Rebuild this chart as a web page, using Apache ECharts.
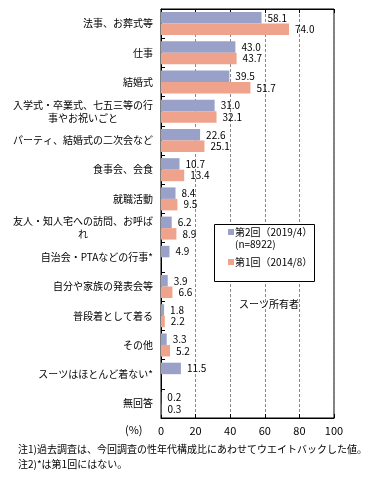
<!DOCTYPE html>
<html><head><meta charset="utf-8">
<script src="https://cdn.jsdelivr.net/npm/echarts@6/dist/echarts.min.js"></script>
<style>html,body{margin:0;padding:0;background:#fff}#c{width:380px;height:479px}</style>
</head><body><div id="c"></div>
<script>
var categories = ['法事、お葬式等','仕事','結婚式','入学式・卒業式、七五三等の行\n事やお祝いごと','パーティ、結婚式の二次会など','食事会、会食','就職活動','友人・知人宅への訪問、お呼ば\nれ','自治会・PTAなどの行事*','自分や家族の発表会等','普段着として着る','その他','スーツはほとんど着ない*','無回答'];
var seriesNames = ['第2回（2019/4）','第1回（2014/8）'];
var round2 = [58.1,43.0,39.5,31.0,22.6,10.7,8.4,6.2,4.9,3.9,1.8,3.3,11.5,0.2];
var round1 = [74.0,43.7,51.7,32.1,25.1,13.4,9.5,8.9,null,6.6,2.2,5.2,null,0.3];
var xTicks = {min:0, max:100, interval:20};

var FONT = '"Noto Sans CJK JP", sans-serif';
var chart = echarts.init(document.getElementById('c'), null, {renderer:'canvas'});
function lbl(p){ return p.value == null ? '' : Number(p.value).toFixed(1); }
var barLabel = {show:true, position:'right', distance:6, fontSize:10, color:'#000', fontFamily:FONT, formatter:lbl};
chart.setOption({
  backgroundColor:'#fff',
  animation:false,
  grid:{left:161, right:46, top:9, bottom:61, show:true, borderColor:'#000', borderWidth:1, backgroundColor:'transparent'},
  legend:{
    show:true, orient:'vertical', left:228, top:226, padding:0, itemWidth:6, itemHeight:6, itemGap:18,
    icon:'rect', selectedMode:false, z:6,
    textStyle:{fontSize:10, color:'#000', fontFamily:FONT, lineHeight:12, padding:[0,0,0,-4]},
    data:seriesNames
  },
  xAxis:[
    {type:'value', position:'bottom', min:xTicks.min, max:xTicks.max, interval:xTicks.interval,
     axisLine:{show:true, lineStyle:{color:'#000'}},
     axisTick:{show:true, inside:true, length:4, lineStyle:{color:'#000'}},
     axisLabel:{fontSize:11, color:'#000', margin:7, fontFamily:FONT},
     splitLine:{show:true, lineStyle:{color:'#888', type:[3,2]}}},
    {type:'value', position:'top', min:xTicks.min, max:xTicks.max, interval:xTicks.interval,
     axisLine:{show:true, lineStyle:{color:'#000'}},
     axisTick:{show:true, inside:true, length:4, lineStyle:{color:'#000'}},
     axisLabel:{show:false}, splitLine:{show:false}}
  ],
  yAxis:{type:'category', inverse:true, data:categories,
     axisLine:{show:true, lineStyle:{color:'#000'}},
     axisTick:{show:true, inside:true, length:4, lineStyle:{color:'#000'}},
     axisLabel:{fontSize:10, color:'#000', margin:8, fontFamily:FONT, lineHeight:13,
       formatter:function(v){ return v.split('\n').map(function(s){return '{c|'+s+'}';}).join('\n'); },
       rich:{c:{align:'center', fontSize:10, lineHeight:13, fontFamily:FONT, color:'#000'}}}
  },
  series:[
    {name:seriesNames[0], type:'bar', data:round2, barWidth:11.5, barGap:'0%', itemStyle:{color:'#9AA1C8'}, label:barLabel, z:2},
    {name:seriesNames[1], type:'bar', data:round1, barWidth:11.5, barGap:'0%', itemStyle:{color:'#EFA28C'}, label:barLabel, z:2}
  ],
  graphic:[
    {type:'rect', left:214, top:224, shape:{width:100, height:57}, style:{fill:'#fff', stroke:'#000', lineWidth:1}, z:3},
    {type:'text', left:235, top:239, style:{text:'(n=8922)', fill:'#000', font:'10px '+FONT}, z:6},
    {type:'text', left:239, top:299, style:{text:'スーツ所有者', fill:'#000', font:'10px '+FONT}, z:6},
    {type:'text', left:125, top:424, style:{text:'(%)', fill:'#000', font:'11px '+FONT}, z:6},
    {type:'text', left:18, top:444, style:{text:'注1)過去調査は、今回調査の性年代構成比にあわせてウエイトバックした値。', fill:'#000', font:'10px '+FONT}, z:6},
    {type:'text', left:18, top:459, style:{text:'注2)*は第1回にはない。', fill:'#000', font:'10px '+FONT}, z:6}
  ]
});
</script></body></html>
